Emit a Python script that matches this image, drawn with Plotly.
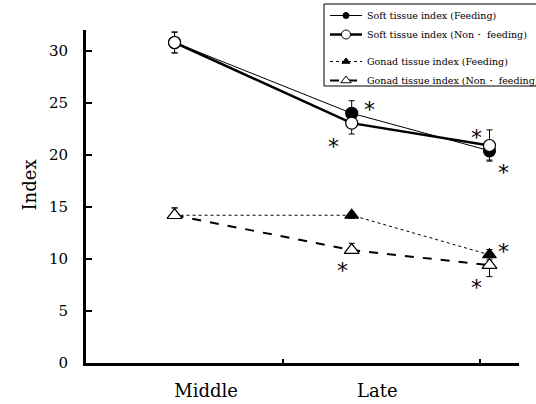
import plotly.graph_objects as go

# ---- data ----
stage_labels = ["Middle", "Late"]
stage_label_pos = [0.61, 1.48]
sample_x = [0.45, 1.35, 2.05]

soft_feed = [30.8, 24.0, 20.4]
soft_feed_err = [1.0, 1.2, 0.9]
soft_non = [30.8, 23.05, 20.9]
soft_non_err = [1.0, 1.05, 1.5]
gonad_feed = [14.2, 14.2, 10.4]
gonad_feed_err_up = [0.7, 0.3, 0.5]
gonad_feed_err_down = [0.3, 0.3, 0.3]
gonad_non = [14.2, 10.85, 9.4]
gonad_non_err_up = [0.7, 0.65, 0.5]
gonad_non_err_down = [0.3, 0.3, 1.1]

y_ticks = [0, 5, 10, 15, 20, 25, 30]

sig_x = [1.44, 1.255, 1.982, 2.119, 1.301, 2.119, 1.982]
sig_y = [24.76, 21.23, 22.09, 18.71, 9.29, 11.06, 7.68]

series_names = ["Soft tissue index (Feeding)", "Soft tissue index (Non\u30fb feeding)",
                "Gonad tissue index (Feeding)", "Gonad tissue index (Non\u30fb feeding)"]

SERIF = "DejaVu Serif"
L, R, T, B = 86, 17, 30, 41
PW, PH = 536 - L - R, 404 - T - B

def px_x(p):
    return (p - L) / PW

def px_y(p):
    return (404 - B - p) / PH

styles = [
    dict(line=dict(color="black", width=1), sym="circle", fill="black", size=12, lsize=6),
    dict(line=dict(color="black", width=2.5), sym="circle", fill="white", size=12, lsize=9),
    dict(line=dict(color="black", width=1, dash="dot"), sym="triangle-up", fill="black", size=12, lsize=7),
    dict(line=dict(color="black", width=2, dash="dash"), sym="triangle-up", fill="white", size=13, lsize=9),
]
values = [soft_feed, soft_non, gonad_feed, gonad_non]
errs = [(soft_feed_err, soft_feed_err), (soft_non_err, soft_non_err),
        (gonad_feed_err_up, gonad_feed_err_down), (gonad_non_err_up, gonad_non_err_down)]
groups = ["soft", "soft", "gonad", "gonad"]

fig = go.Figure()
for name, vals, (eu, ed), st, g in zip(series_names, values, errs, styles, groups):
    fig.add_trace(go.Scatter(
        x=sample_x, y=vals, name=name, showlegend=False,
        mode="lines+markers", line=st["line"],
        marker=dict(symbol=st["sym"], size=st["size"], color=st["fill"],
                    line=dict(color="black", width=1.2)),
        error_y=dict(type="data", array=eu, arrayminus=ed, symmetric=False, visible=True,
                     color="black", thickness=1, width=3)))
# legend entries (smaller symbols, as in the reference legend)
for name, st, g in zip(series_names, styles, groups):
    fig.add_trace(go.Scatter(
        x=[None], y=[None], name=name, legendgroup=g, mode="lines+markers",
        line=st["line"],
        marker=dict(symbol=st["sym"], size=st["lsize"], color=st["fill"],
                    line=dict(color="black", width=1))))

# invisible trace for the category labels axis
fig.add_trace(go.Scatter(x=stage_label_pos, y=[None, None], xaxis="x2", showlegend=False,
                         hoverinfo="skip", mode="markers"))

for sx, sy in zip(sig_x, sig_y):
    fig.add_annotation(x=sx, y=sy, xref="x", yref="y", text="*", showarrow=False,
                       font=dict(family="DejaVu Sans", size=22, color="black"), yshift=-4)

fig.add_annotation(x=px_x(17), y=px_y(185), xref="paper", yref="paper",
                   text="Index", showarrow=False, textangle=-90,
                   font=dict(family=SERIF, size=18, color="black"))

# legend frame
fig.add_shape(type="rect", xref="paper", yref="paper",
              x0=px_x(324), x1=px_x(545), y0=px_y(86), y1=px_y(4),
              line=dict(color="black", width=1), fillcolor="white", layer="below")

fig.update_layout(
    width=536, height=404,
    margin=dict(l=L, r=R, t=T, b=B, autoexpand=False),
    paper_bgcolor="white", plot_bgcolor="white",
    font=dict(family=SERIF, color="black"),
    xaxis=dict(range=[0, 2.2], tickvals=[1, 2], showticklabels=False, ticks="inside",
               ticklen=4, tickwidth=2, tickcolor="black", showline=True, linecolor="black",
               linewidth=3, showgrid=False, zeroline=False, automargin=False),
    xaxis2=dict(range=[0, 2.2], overlaying="x", anchor="y", side="bottom",
                tickvals=stage_label_pos, ticktext=stage_labels, ticks="", showline=False,
                showgrid=False, zeroline=False, ticklabelstandoff=15, automargin=False,
                tickfont=dict(family=SERIF, size=18, color="black")),
    yaxis=dict(range=[0, 32], tickvals=y_ticks, ticks="inside", ticklen=6, tickwidth=2,
               tickcolor="black", showline=True, linecolor="black", linewidth=3,
               showgrid=False, zeroline=False, ticklabelstandoff=12, automargin=False,
               tickfont=dict(family=SERIF, size=15, color="black")),
    legend=dict(x=px_x(325), y=px_y(1), xanchor="left", yanchor="top",
                borderwidth=0, bgcolor="rgba(0,0,0,0)",
                font=dict(family=SERIF, size=9.5, color="black"),
                tracegroupgap=8, itemwidth=32, traceorder="grouped"),
    showlegend=True,
)

fig.write_html("out.html")
